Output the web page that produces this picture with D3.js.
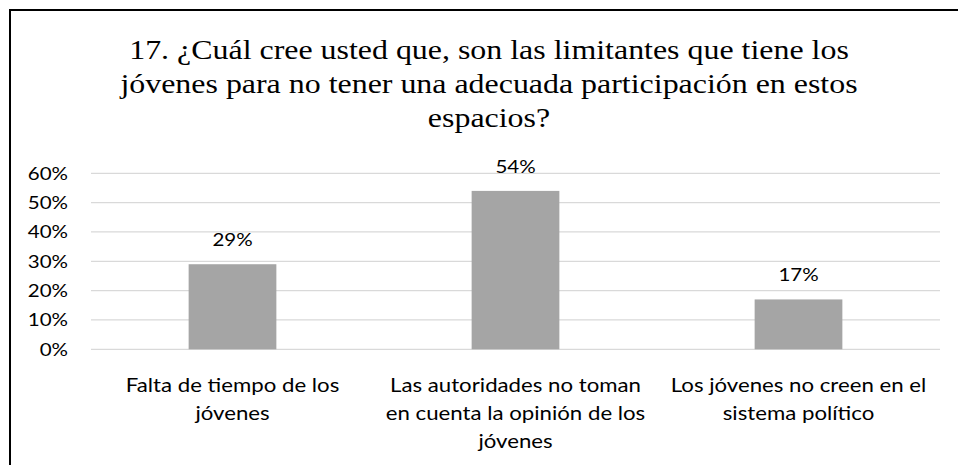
<!DOCTYPE html>
<html>
<head>
<meta charset="utf-8">
<script src="https://cdn.jsdelivr.net/npm/d3@7"></script>
<style>
    body { margin: 0; background: #fff; }
    svg { display: block; }
</style>
</head>
<body>
<svg class="canvas" width="958" height="465"></svg>
<script>
// chart data
const titleLines = [
    '17. ¿Cuál cree usted que, son las limitantes que tiene los',
    'jóvenes para no tener una adecuada participación en estos',
    'espacios?'
];
const categories = [
    ['Falta de tiempo de los', 'jóvenes'],
    ['Las autoridades no toman', 'en cuenta la opinión de los', 'jóvenes'],
    ['Los jóvenes no creen en el', 'sistema político']
];
const values = [0.29, 0.54, 0.17];
const yTicks = [0, 0.1, 0.2, 0.3, 0.4, 0.5, 0.6];

const svg = d3.select('.canvas');
const plotLeft = 91, plotRight = 940, plotTop = 173.3, plotBottom = 349.3;
const sansFont = 'Lato';
const serifFont = '"Liberation Serif"';
// the original picture is a bit wider than tall, so text is stretched sideways
const stretch = 1.14;

// chart border (clipped on right and bottom like the original)
svg.append('rect')
    .attr('x', 10)
    .attr('y', 10)
    .attr('width', 960)
    .attr('height', 470)
    .attr('fill', 'none')
    .attr('stroke', '#000')
    .attr('stroke-width', 2);

// title
svg.selectAll('text.title')
    .data(titleLines)
    .enter()
    .append('text')
    .attr('class', 'title')
    .attr('transform', (d, i) => `translate(489, ${59.3 + i * 33.8}) scale(${stretch}, 1)`)
    .attr('text-anchor', 'middle')
    .style('font-family', serifFont)
    .style('font-size', '28px')
    .attr('fill', '#000')
    .text((d) => d);

// scales
const idx = categories.map((d, i) => i);
const xScale = d3.scaleBand().domain(idx).range([plotLeft, plotRight]);
const yScale = d3.scaleLinear().domain([0, 0.6]).range([plotBottom, plotTop]);
const barWidth = xScale.bandwidth() * 0.31;
const bandMid = (i) => xScale(i) + xScale.bandwidth() / 2;

// gridlines
svg.append('g')
    .selectAll('line')
    .data(yTicks)
    .enter()
    .append('line')
    .attr('x1', plotLeft)
    .attr('x2', plotRight)
    .attr('y1', (d) => yScale(d))
    .attr('y2', (d) => yScale(d))
    .attr('stroke', '#d9d9d9')
    .attr('stroke-width', 1.3);

// y axis labels
const yAxis = d3.axisLeft(yScale)
    .tickValues(yTicks)
    .tickFormat(d3.format('.0%'))
    .tickSize(0);
const yg = svg.append('g')
    .attr('transform', `translate(${plotLeft}, 0)`)
    .call(yAxis);
yg.select('.domain').remove();
yg.selectAll('text')
    .attr('x', 0)
    .attr('transform', `translate(-23, 0) scale(${stretch}, 1)`)
    .style('font-family', sansFont)
    .style('font-size', '18px')
    .attr('fill', '#000');

// bars
svg.selectAll('rect.bar')
    .data(values)
    .enter()
    .append('rect')
    .attr('class', 'bar')
    .attr('x', (d, i) => xScale(i) + (xScale.bandwidth() - barWidth) / 2)
    .attr('y', (d) => yScale(d))
    .attr('width', barWidth)
    .attr('height', (d) => yScale(0) - yScale(d))
    .attr('fill', '#a5a5a5');

// data labels
svg.selectAll('text.value')
    .data(values)
    .enter()
    .append('text')
    .attr('class', 'value')
    .attr('transform', (d, i) => `translate(${bandMid(i)}, ${yScale(d) - 18}) scale(${stretch}, 1)`)
    .attr('text-anchor', 'middle')
    .style('font-family', sansFont)
    .style('font-size', '18px')
    .attr('fill', '#000')
    .text((d) => d3.format('.0%')(d));

// category labels
const cat = svg.selectAll('g.cat')
    .data(categories)
    .enter()
    .append('g')
    .attr('class', 'cat');
cat.selectAll('text')
    .data((d, i) => d.map((line) => ({ line, i })))
    .enter()
    .append('text')
    .attr('transform', (d, j) => `translate(${bandMid(d.i)}, ${392 + j * 28}) scale(${stretch}, 1)`)
    .attr('text-anchor', 'middle')
    .style('font-family', sansFont)
    .style('font-size', '19.5px')
    .attr('fill', '#000')
    .text((d) => d.line);
</script>
</body>
</html>
